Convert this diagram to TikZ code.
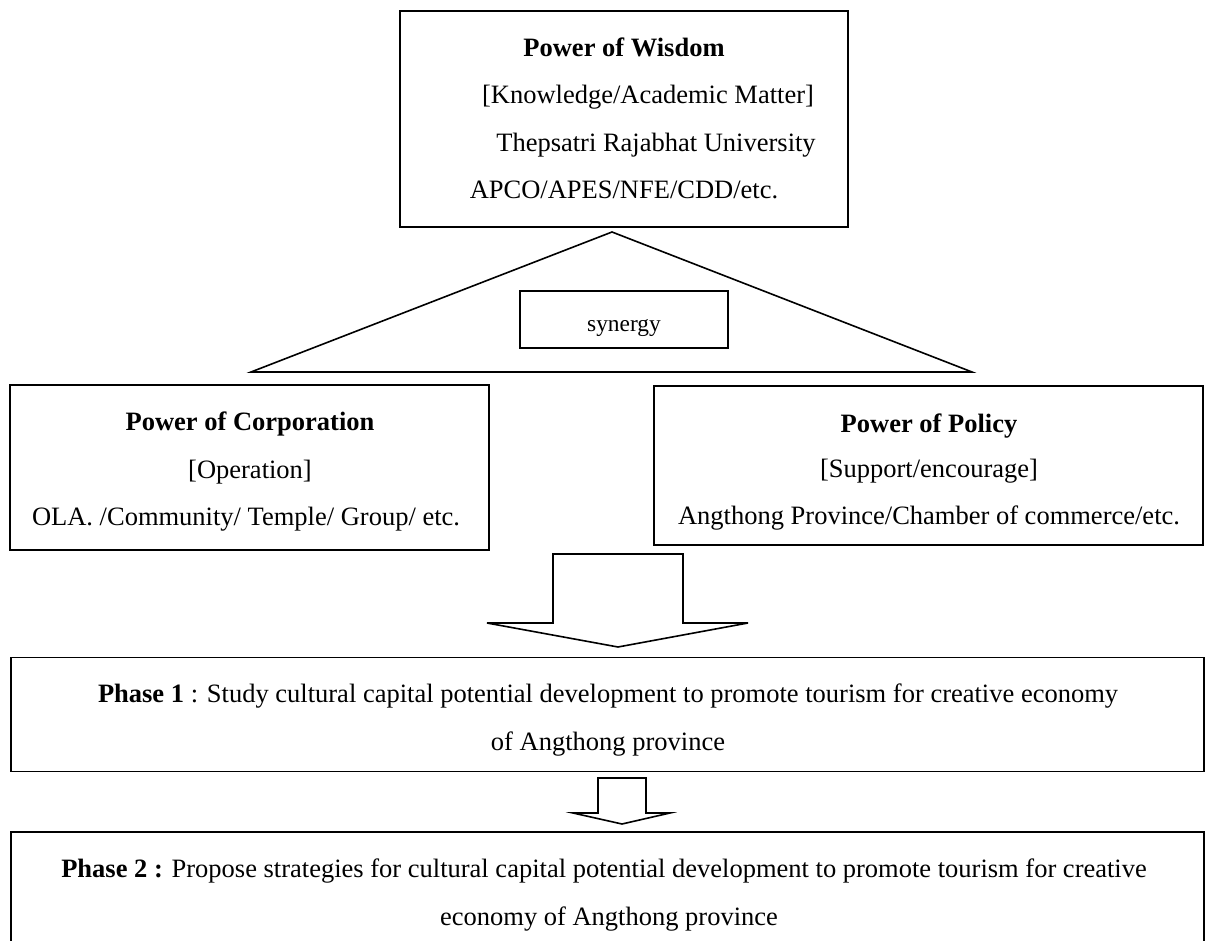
\documentclass[tikz,border=0pt]{standalone}
\usepackage{fontspec}
\setmainfont{Liberation Serif}
\begin{document}
\begin{tikzpicture}[x=1pt,y=-1pt,
  box/.style={draw, line width=1.6pt, inner sep=0pt},
  txt/.style={anchor=base, inner sep=0pt, font=\fontsize{26.5}{32}\selectfont},
  smalltxt/.style={anchor=base, inner sep=0pt, font=\fontsize{23.4}{28}\selectfont},
  blockline/.style={draw, line width=1.6pt, line join=miter}]
\useasboundingbox (0,0) rectangle (1205,941);
\clip (0,0) rectangle (1205,941);
% triangle
\coordinate (apex) at (612,232);
\coordinate (bl) at (251,372);
\coordinate (br) at (972,372);
\draw[blockline] (apex) -- (bl) -- (br) -- cycle;
% boxes
\node[box, minimum width=448pt, minimum height=216pt] (wisdom) at (624,119) {};
\node[box, minimum width=208pt, minimum height=57pt] (synbox) at (624,319.5) {};
\node[box, minimum width=479pt, minimum height=165pt] (corp) at (249.5,467.5) {};
\node[box, minimum width=549pt, minimum height=159pt] (policy) at (928.5,465.5) {};
\node[box, minimum width=1193pt, minimum height=114pt] (phase1) at (607.5,714.5) {};
\node[box, minimum width=1193pt, minimum height=122pt] (phase2) at (607.5,893) {};
% texts
\node[txt] (w1) at (624,57) {\textbf{Power of Wisdom}};
\node[txt] (w2) at (648,104) {[Knowledge/Academic Matter]};
\node[txt] (w3) at (656,152) {Thepsatri Rajabhat University};
\node[txt] (w4) at (624,199) {APCO/APES/NFE/CDD/etc.};
\node[smalltxt] (syn) at (624,332) {synergy};
\node[txt] (c1) at (250,430) {\textbf{Power of Corporation}};
\node[txt] (c2) at (250,478) {[Operation]};
\node[txt] (c3) at (246,525) {OLA. /Community/ Temple/ Group/ etc.};
\node[txt] (p1) at (929,432) {\textbf{Power of Policy}};
\node[txt] (p2) at (929,477) {[Support/encourage]};
\node[txt] (p3) at (929,524) {Angthong Province/Chamber of commerce/etc.};
\node[txt] (ph1a) at (608,702) {\textbf{Phase 1} : Study cultural capital potential development to promote tourism for creative economy};
\node[txt] (ph1b) at (608,750) {of Angthong province};
\node[txt] (ph2a) at (604,877) {\textbf{Phase 2 :} Propose strategies for cultural capital potential development to promote tourism for creative};
\node[txt] (ph2b) at (609,925) {economy of Angthong province};
% block arrows
\draw[blockline, fill=white] (553,554) -- (683,554) -- (683,623) -- (748,623) -- (618,647) -- (487,623) -- (553,623) -- cycle;
\draw[blockline, fill=white] (598,778) -- (646,778) -- (646,813) -- (670,813) -- (622,824) -- (573,813) -- (598,813) -- cycle;
\end{tikzpicture}
\end{document}
